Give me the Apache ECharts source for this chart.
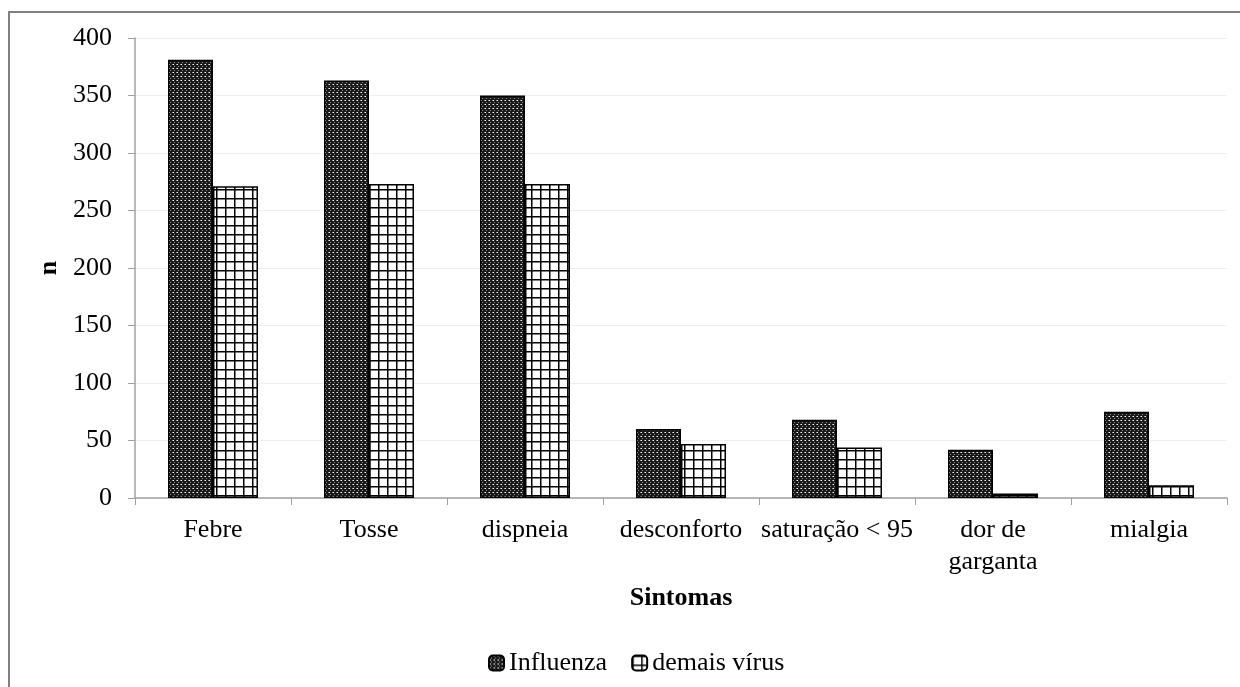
<!DOCTYPE html>
<html>
<head>
<meta charset="utf-8">
<script src="https://cdn.jsdelivr.net/npm/echarts@6/dist/echarts.min.js"></script>
<style>
  html, body { margin: 0; padding: 0; background: #fff; }
  #chart { width: 1240px; height: 687px; }
</style>
</head>
<body>
<div id="chart"></div>
<script>
const categories = ['Febre', 'Tosse', 'dispneia', 'desconforto', 'saturação < 95', 'dor de\ngarganta', 'mialgia']
const influenza = [381, 363, 350, 60, 68, 42, 75]
const demaisVirus = [271, 273, 273, 47, 44, 4, 11]
const yTicks = [0, 50, 100, 150, 200, 250, 300, 350, 400]

// dark dotted fill, like the Excel pattern
function darkPattern() {
  const c = document.createElement('canvas')
  c.width = 4; c.height = 4
  const g = c.getContext('2d')
  g.fillStyle = '#1a1a1a'
  g.fillRect(0, 0, 4, 4)
  g.fillStyle = '#8a8a8a'
  g.fillRect(0, 0, 1, 1)
  g.fillRect(2, 2, 1, 1)
  g.fillStyle = '#ffffff'
  g.fillRect(1, 0, 1, 1)
  return c
}

// white fill with black grid lines
function gridPattern() {
  const c = document.createElement('canvas')
  c.width = 9; c.height = 9
  const g = c.getContext('2d')
  g.fillStyle = '#ffffff'
  g.fillRect(0, 0, 9, 9)
  g.fillStyle = '#000000'
  g.fillRect(0, 0, 9, 1.5)
  g.fillRect(0, 0, 1.5, 9)
  return c
}

const chart = echarts.init(document.getElementById('chart'))
const font = '"Liberation Serif", "Times New Roman", serif'

const option = {
  animation: false,
  textStyle: { fontFamily: font },
  graphic: [{
    type: 'rect',
    shape: { x: 9, y: 12, width: 1240, height: 700 },
    style: { fill: 'none', stroke: '#808080', lineWidth: 2 }
  }],
  grid: { left: 135, right: 13, top: 38, bottom: 189 },
  legend: {
    top: 645,
    left: 483,
    itemWidth: 15,
    itemHeight: 15,
    itemGap: 24,
    textStyle: { fontFamily: font, fontSize: 26, color: '#000' },
    data: ['Influenza', 'demais vírus']
  },
  xAxis: {
    type: 'category',
    data: categories,
    name: 'Sintomas',
    nameLocation: 'middle',
    nameGap: 87,
    nameTextStyle: { fontFamily: font, fontSize: 26, fontWeight: 'bold', color: '#000' },
    axisLine: { lineStyle: { color: '#a0a0a0', width: 1.5 } },
    axisTick: { show: true, interval: 0, length: 7, lineStyle: { color: '#a0a0a0' } },
    axisLabel: { interval: 0, fontFamily: font, fontSize: 26, color: '#000', margin: 16, lineHeight: 32 }
  },
  yAxis: {
    type: 'value',
    min: yTicks[0],
    max: yTicks[yTicks.length - 1],
    interval: 50,
    name: 'n',
    nameLocation: 'middle',
    nameGap: 71,
    nameTextStyle: { fontFamily: font, fontSize: 26, fontWeight: 'bold', color: '#000' },
    axisLine: { show: true, lineStyle: { color: '#a0a0a0', width: 1.5 } },
    axisTick: { show: true, length: 7, lineStyle: { color: '#a0a0a0' } },
    axisLabel: { fontFamily: font, fontSize: 26, color: '#000', margin: 23 },
    splitLine: { lineStyle: { color: '#efefef' } }
  },
  series: [
    {
      name: 'Influenza',
      type: 'bar',
      data: influenza,
      barWidth: 45,
      barGap: '0%',
      itemStyle: {
        color: { image: darkPattern(), repeat: 'repeat' },
        borderColor: '#000',
        borderWidth: 1.5
      }
    },
    {
      name: 'demais vírus',
      type: 'bar',
      data: demaisVirus,
      barWidth: 45,
      itemStyle: {
        color: { image: gridPattern(), repeat: 'repeat' },
        borderColor: '#000',
        borderWidth: 1.5
      }
    }
  ]
}

chart.setOption(option)
</script>
</body>
</html>
